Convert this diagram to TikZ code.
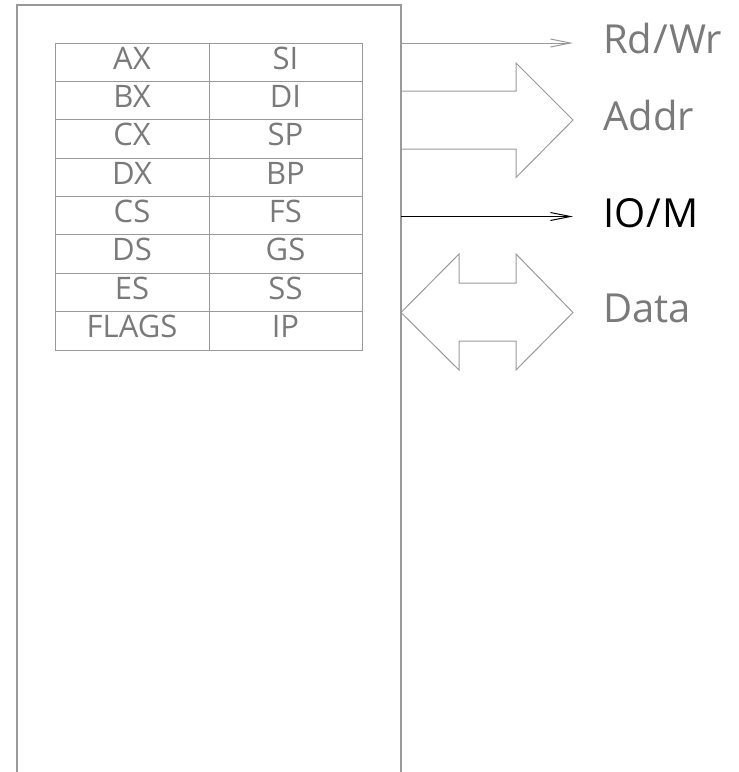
\documentclass[tikz,border=0pt]{standalone}
\usepackage{fontspec}
\setmainfont{Open Sans}
\usetikzlibrary{arrows.meta}
\definecolor{ln}{HTML}{999999}
\definecolor{tx}{HTML}{7A7A7A}
\begin{document}
\begin{tikzpicture}[x=1pt,y=-1pt,
  frame/.style={draw=ln,line width=1.3pt},
  grid/.style={draw=ln,line width=1pt},
  reg/.style={anchor=base,text=tx,inner sep=0pt,font=\fontsize{31}{31}\selectfont},
  lbl/.style={anchor=base west,text=tx,inner sep=0pt,font=\fontsize{40}{40}\selectfont},
  bus/.style={draw=ln,line width=1pt,line join=miter},
  sig/.style={line width=1pt,-{Straight Barb[length=20pt,width=8pt,line width=1pt]}}]
\useasboundingbox (0,0) rectangle (739,772);
% outer box
\draw[frame] (17,772) -- (17,5) -- (401,5) -- (401,772);
% register table grid
\draw[grid] (55,43) rectangle (362,350);
\draw[grid] (209,43) -- (209,350);
\foreach \i in {1,...,7}{\draw[grid] (55,43+38.375*\i) -- (362,43+38.375*\i);}
% register names
\foreach \l/\r [count=\k from 0] in {AX/SI,BX/DI,CX/SP,DX/BP,CS/FS,DS/GS,ES/SS,FLAGS/IP}{
  \node[reg] (l\k) at (132,69+38.375*\k) {\l};
  \node[reg] (r\k) at (285.5,69+38.375*\k) {\r};
}
% signal coordinates
\coordinate (rwS) at (401,43);
\coordinate (rwE) at (573,43);
\coordinate (ioS) at (401,216.5);
\coordinate (ioE) at (573,216.5);
\draw[sig,ln] (rwS) -- (rwE);
\draw[sig,black] (ioS) -- (ioE);
% address bus (single arrow)
\draw[bus] (401,91) -- (516,91) -- (516,63) -- (573,120) -- (516,177.5) -- (516,149) -- (401,149);
% data bus (double arrow)
\draw[bus] (459,283) -- (516,283) -- (516,254) -- (573,312.5) -- (516,370) -- (516,341) -- (459,341) -- (459,370) -- (401,312.5) -- (459,254) -- cycle;
% labels
\node[lbl] (rw) at (603,53) {Rd\kern1pt/\kern1ptWr};
\node[lbl] (addr) at (603,130) {Addr};
\node[lbl,text=black] (io) at (603,227) {IO\kern1pt/\kern1ptM};
\node[lbl] (data) at (603,322) {Data};
\end{tikzpicture}
\end{document}
